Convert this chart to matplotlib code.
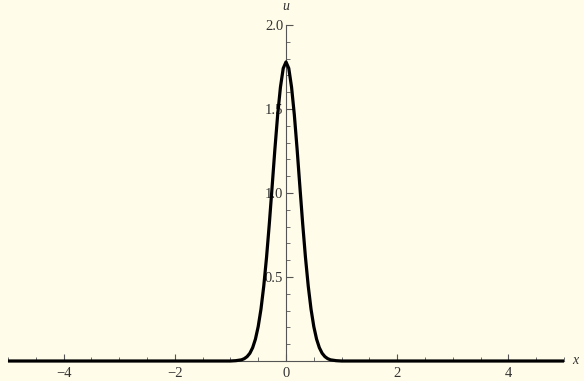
import numpy as np
import matplotlib
matplotlib.use("Agg")
from matplotlib import pyplot as plt
from matplotlib.ticker import MultipleLocator

# values
x_vals = [-5.0, -1.0, -0.9, -0.8, -0.75, -0.7, -0.65, -0.6, -0.55, -0.5, -0.45, -0.4,
          -0.35, -0.3, -0.25, -0.2, -0.15, -0.1, -0.05, 0.0, 0.05, 0.1, 0.15, 0.2,
          0.25, 0.3, 0.35, 0.4, 0.45, 0.5, 0.55, 0.6, 0.65, 0.7, 0.75, 0.8, 0.9, 1.0, 5.0]
u_vals = [0.0, 0.0, 0.002, 0.007, 0.014, 0.026, 0.046, 0.079, 0.130, 0.205, 0.309, 0.446,
          0.617, 0.817, 1.036, 1.26, 1.465, 1.63, 1.742, 1.78, 1.742, 1.63, 1.465, 1.26,
          1.036, 0.817, 0.617, 0.446, 0.309, 0.205, 0.130, 0.079, 0.046, 0.026, 0.014, 0.007, 0.002, 0.0, 0.0]
x_ticks = [-4, -2, 0, 2, 4]
x_ticklabels = ["\u22124", "\u22122", "0", "2", "4"]
y_ticks = [0.5, 1.0, 1.5, 2.0]
y_ticklabels = ["0.5", "1.0", "1.5", "2.0"]

bg = "#fffce9"
axis_col = "#555555"
plt.rcParams['font.family'] = ['Liberation Serif', 'DejaVu Serif']

fig = plt.figure(figsize=(5.84, 3.81), dpi=100, facecolor=bg)
ax = fig.add_axes([8 / 584, 20 / 381, 556 / 584, 336 / 381])
ax.set_facecolor(bg)
ax.patch.set_alpha(0)

ax.plot(x_vals, u_vals, color="black", lw=2.3, clip_on=False, zorder=5,
        solid_joinstyle="round", solid_capstyle="butt")

ax.set_xlim(-5, 5)
ax.set_ylim(0, 2.0)

for s in ["top", "right"]:
    ax.spines[s].set_visible(False)
ax.spines["left"].set_position(("data", 0))
ax.spines["bottom"].set_position(("data", 0))
for s in ["left", "bottom"]:
    ax.spines[s].set_color(axis_col)
    ax.spines[s].set_linewidth(0.8)

ax.set_xticks(x_ticks)
ax.set_xticklabels(x_ticklabels)
ax.xaxis.set_minor_locator(MultipleLocator(0.5))
ax.set_yticks(y_ticks)
ax.set_yticklabels(y_ticklabels)
ax.yaxis.set_minor_locator(MultipleLocator(0.1))

ax.tick_params(axis="x", which="major", direction="in", length=5, width=0.8,
               color=axis_col, labelsize=10.5, labelcolor="#333333", pad=4)
ax.tick_params(axis="x", which="minor", direction="in", length=3, width=0.6, color=axis_col)
ax.tick_params(axis="y", which="major", direction="in", length=5, width=0.8,
               color=axis_col, labelsize=10.5, labelcolor="#333333", pad=2)
ax.tick_params(axis="y", which="minor", direction="in", length=3, width=0.6, color=axis_col)

ax.text(5.15, 0, "x", style="italic", fontsize=10, color="#333333",
        ha="left", va="center", clip_on=False)
ax.text(0, 2.07, "u", style="italic", fontsize=10, color="#333333",
        ha="center", va="bottom", clip_on=False)

fig.savefig("out.png", dpi=100, facecolor=bg)
